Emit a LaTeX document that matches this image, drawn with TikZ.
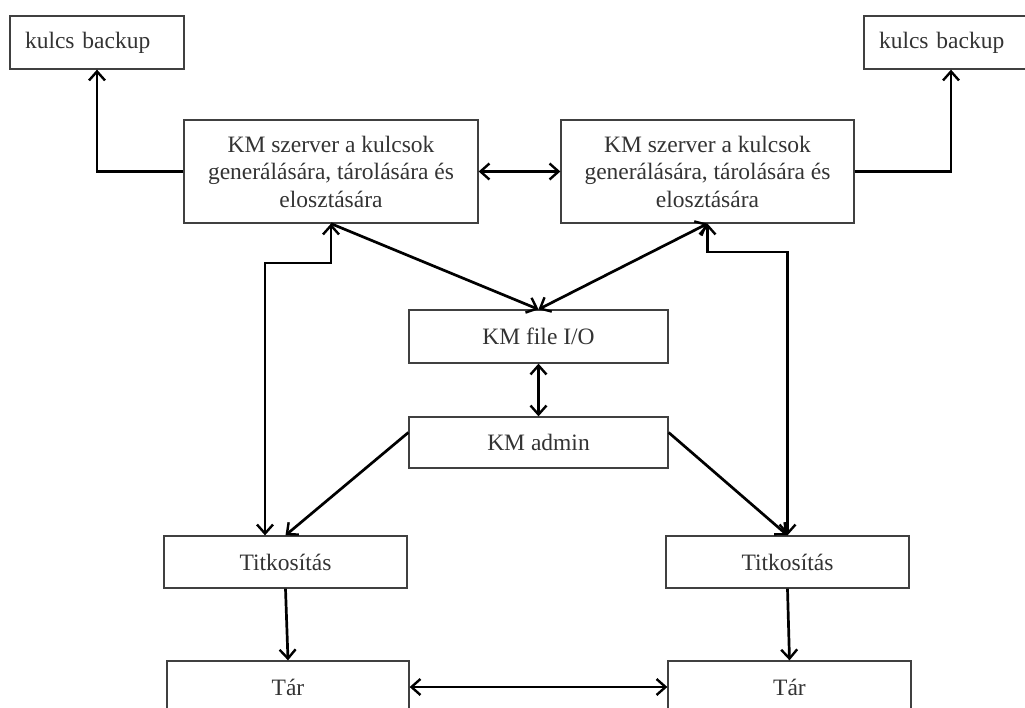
\documentclass[tikz,border=0pt]{standalone}
\usepackage{fontspec}
\setmainfont{Liberation Serif}
\usetikzlibrary{arrows.meta}
\begin{document}
\begin{tikzpicture}[x=1pt,y=-1pt,
  box/.style={draw=black!75,line width=1.3pt,rectangle,inner sep=0pt,
    text=black!80,font=\fontsize{23.5}{27.5}\selectfont,align=center},
  bkbox/.style={box,text width=144pt,inner xsep=15pt,align=left,minimum height=53pt},
  arr/.style={line width=2.7pt,-{Straight Barb[length=9pt,width=16pt,line width=2.4pt]}},
  dbl/.style={line width=2.7pt,{Straight Barb[length=9pt,width=16pt,line width=2.4pt]}-{Straight Barb[length=9pt,width=16pt,line width=2.4pt]}}]
\useasboundingbox (0,0) rectangle (1025,708);
\clip (0,0) rectangle (1025,708);
%\draw[step=50,gray,very thin] (0,0) grid (1025,708); %background grid
\node[bkbox] (bkL) at (97,42.5) {kulcs backup};
\node[bkbox] (bkR) at (951,42.5) {kulcs backup};
\node[box,minimum width=294pt,minimum height=103pt] (kmL) at (331,171.5) {KM szerver a kulcsok\\generálására, tárolására és\\elosztására};
\node[box,minimum width=293pt,minimum height=103pt] (kmR) at (707.5,171.5) {KM szerver a kulcsok\\generálására, tárolására és\\elosztására};
\node[box,minimum width=259pt,minimum height=53pt] (fio) at (538.5,336.5) {KM file I/O};
\node[box,minimum width=259pt,minimum height=51pt] (adm) at (538.5,442.5) {KM admin};
\node[box,minimum width=243pt,minimum height=52pt] (tkL) at (285.5,562) {Titkosítás};
\node[box,minimum width=243pt,minimum height=52pt] (tkR) at (787.5,562) {Titkosítás};
\node[box,minimum width=242pt,minimum height=52pt] (tarL) at (288,687) {Tár};
\node[box,minimum width=243pt,minimum height=52pt] (tarR) at (789.5,687) {Tár};
\coordinate (lv) at (265,263);
\coordinate (rv) at (787.5,252);
% backup
\draw[arr] (kmL.west) -| (bkL.south);
\draw[arr] (kmR.east) -| (bkR.south);
\draw[dbl] (kmL.east) -- (kmR.west);
% szerver - titkositas
\draw[dbl] (kmL.south) |- (lv) -- (lv |- tkL.north);
\draw[dbl] (kmR.south) |- (rv) -- (tkR.north);
% file I/O
\draw[arr] (kmL.south) -- (fio.north);
\draw[dbl] (fio.north) -- (kmR.south);
\draw[dbl] (fio.south) -- (adm.north);
% admin
\draw[arr] ([yshift=10pt]adm.west) -- (tkL.north);
\draw[arr] ([yshift=10pt]adm.east) -- (tkR.north);
% tar
\draw[arr] (tkL.south) -- (tarL.north);
\draw[arr] (tkR.south) -- (tarR.north);
\draw[dbl] (tarL.east) -- (tarR.west);
\end{tikzpicture}
\end{document}
